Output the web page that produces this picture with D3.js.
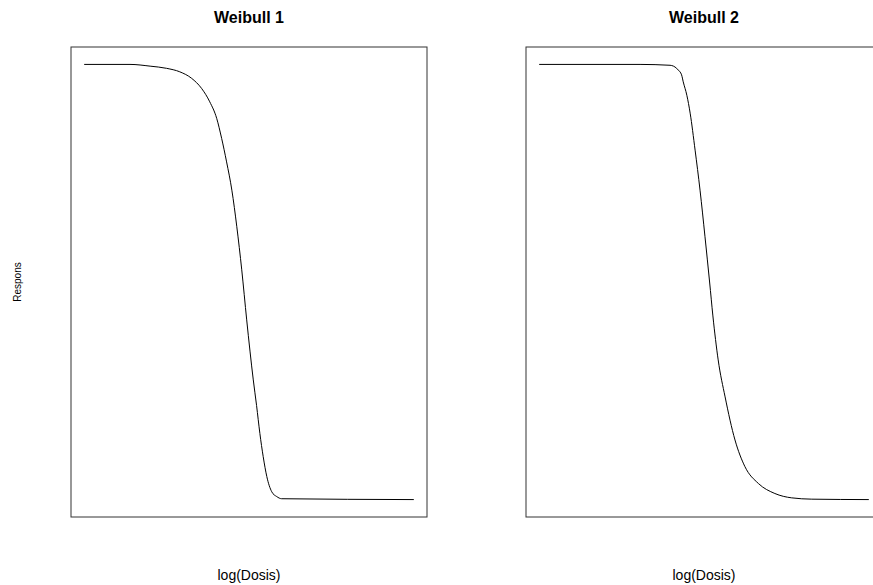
<!DOCTYPE html>
<html>
<head>
<meta charset="utf-8">
<script src="https://cdn.jsdelivr.net/npm/d3@7"></script>
<style>
  html, body { margin: 0; padding: 0; background: #fff; }
  svg { display: block; font-family: "Liberation Sans", Arial, Helvetica, sans-serif; }
</style>
</head>
<body>
<svg id="chart" width="873" height="585"></svg>
<script>
// Panel titles and axis labels
const panelTitles = ["Weibull 1", "Weibull 2"];
const xLabel = "log(Dosis)";
const yLabel = "Respons";

// Fitted dose-response curves: log dose vs response (0-100)
const weibull1LogDose = [0, 1.39, 2.00, 2.50, 2.90, 3.26, 3.56, 3.81, 4.02, 4.17, 4.32, 4.48, 4.63, 4.78, 4.93, 5.13, 5.23, 5.33, 5.43, 5.54, 5.69, 5.84, 5.99, 10];
const weibull1Response = [100, 100, 99.6, 99.1, 98.3, 96.8, 94.5, 91.4, 87.6, 83.0, 77.6, 71.1, 62.7, 52.8, 41.3, 27.5, 21.6, 15.2, 9.9, 5.3, 1.8, 0.7, 0.2, 0];

const weibull2LogDose = [0, 3.06, 3.97, 4.17, 4.22, 4.32, 4.37, 4.48, 4.58, 4.73, 4.88, 5.03, 5.17, 5.27, 5.43, 5.64, 5.94, 6.24, 6.65, 7.15, 7.66, 8.27, 10];
const weibull2Response = [100, 100, 99.8, 99.1, 98.7, 97.6, 96.0, 92.9, 88.8, 80.3, 71.1, 60.4, 50.0, 42.2, 32.1, 23.6, 13.7, 7.6, 3.7, 1.4, 0.4, 0.1, 0];

const series = [
  { title: panelTitles[0], x: weibull1LogDose, y: weibull1Response },
  { title: panelTitles[1], x: weibull2LogDose, y: weibull2Response }
];

const svg = d3.select("#chart");

// Plot regions (frame boxes) for the two panels
const panelLeft = [71, 526];
const panelWidth = 356;
const plotTop = 47, plotBottom = 517;

// Data ranges padded by 4% on each side
const xExt = [0, 10], yExt = [0, 100];
const pad = (e) => { const d = (e[1] - e[0]) * 0.04; return [e[0] - d, e[1] + d]; };

const y = d3.scaleLinear().domain(pad(yExt)).range([plotBottom, plotTop]);

series.forEach((s, i) => {
  const x0 = panelLeft[i];
  const x = d3.scaleLinear().domain(pad(xExt)).range([x0, x0 + panelWidth]);
  const g = svg.append("g");

  // frame
  g.append("rect")
    .attr("x", x0).attr("y", plotTop)
    .attr("width", panelWidth).attr("height", plotBottom - plotTop)
    .attr("fill", "none").attr("stroke", "#333").attr("stroke-width", 1);

  // curve
  const pts = s.x.map((v, k) => [v, s.y[k]]);
  const line = d3.line()
    .x(d => x(d[0]))
    .y(d => y(d[1]))
    .curve(d3.curveMonotoneX);
  g.append("path")
    .datum(pts)
    .attr("d", line)
    .attr("fill", "none")
    .attr("stroke", "#000")
    .attr("stroke-width", 1);

  // title
  g.append("text")
    .attr("x", x0 + panelWidth / 2).attr("y", 22.7)
    .attr("text-anchor", "middle")
    .attr("font-size", 16).attr("font-weight", "bold")
    .text(s.title);

  // x-axis label
  g.append("text")
    .attr("x", x0 + panelWidth / 2).attr("y", 580)
    .attr("text-anchor", "middle")
    .attr("font-size", 14)
    .text(xLabel);
});

// y-axis label on the left panel
svg.append("text")
  .attr("transform", "translate(20.5," + ((plotTop + plotBottom) / 2) + ") rotate(-90)")
  .attr("text-anchor", "middle")
  .attr("font-size", 10)
  .text(yLabel);
</script>
</body>
</html>
